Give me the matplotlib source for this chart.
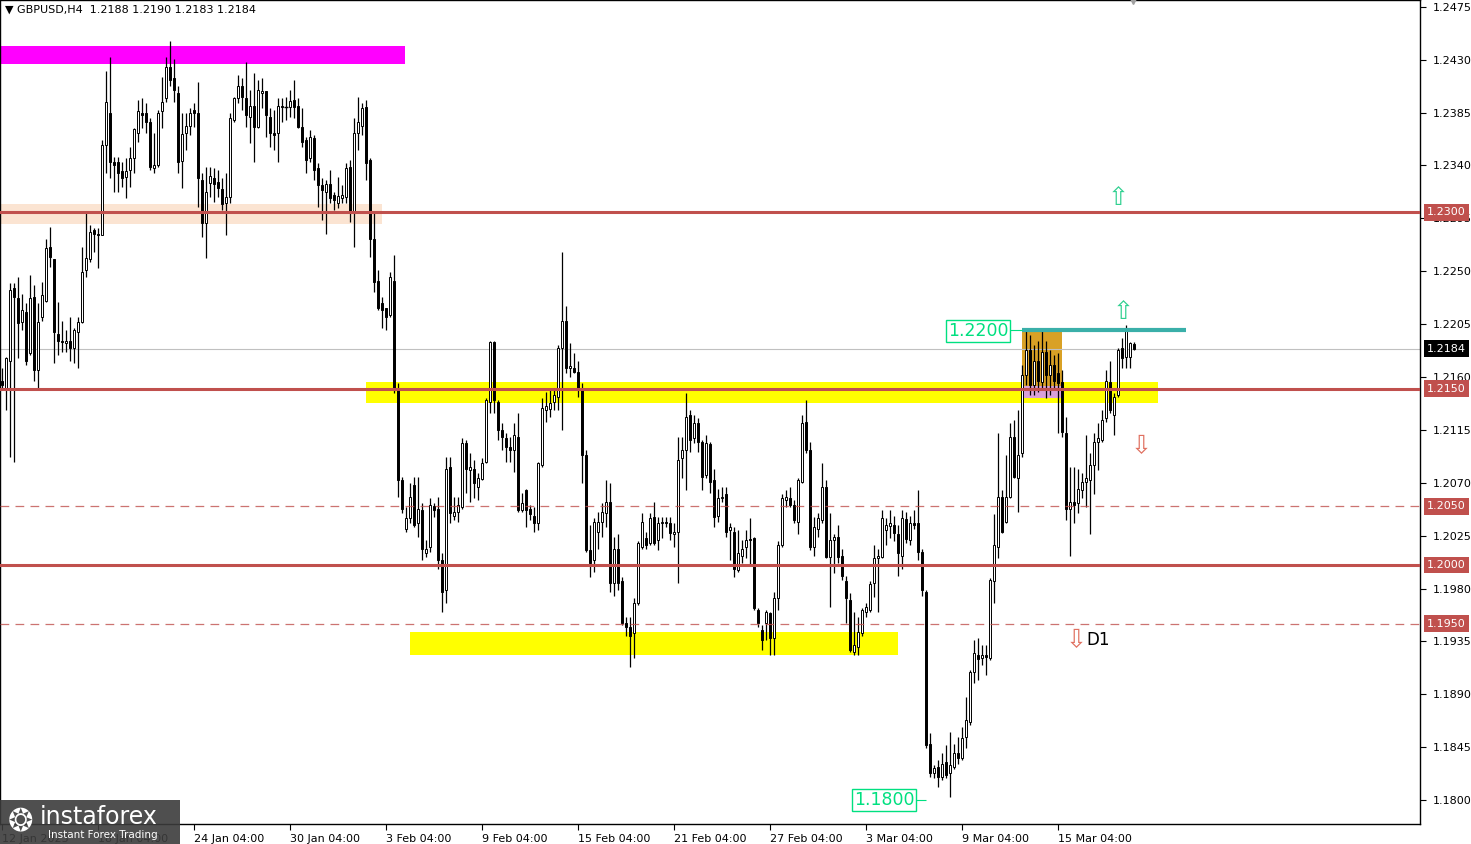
import matplotlib
matplotlib.use('Agg')
import matplotlib.pyplot as plt
from matplotlib.patches import Rectangle
from matplotlib.transforms import blended_transform_factory

# H4 candles (oldest first)
opens = [
    1.2157, 1.2151, 1.2174, 1.2236, 1.2227, 1.2207, 1.2215, 1.2180, 1.2228, 1.2166, 1.2211, 1.2225,
    1.2271, 1.2260, 1.2197, 1.2191, 1.2189, 1.2191, 1.2185, 1.2198, 1.2207, 1.2251, 1.2260, 1.2285,
    1.2282, 1.2281, 1.2357, 1.2385, 1.2343, 1.2343, 1.2335, 1.2330, 1.2336, 1.2346, 1.2368, 1.2385,
    1.2385, 1.2377, 1.2338, 1.2340, 1.2386, 1.2397, 1.2424, 1.2414, 1.2402, 1.2344, 1.2368, 1.2374,
    1.2387, 1.2385, 1.2328, 1.2291, 1.2325, 1.2329, 1.2326, 1.2320, 1.2308, 1.2313, 1.2379, 1.2397,
    1.2408, 1.2397, 1.2381, 1.2391, 1.2373, 1.2402, 1.2403, 1.2381, 1.2368, 1.2368, 1.2391, 1.2390,
    1.2390, 1.2396, 1.2391, 1.2373, 1.2362, 1.2346, 1.2363, 1.2338, 1.2323, 1.2317, 1.2324, 1.2315,
    1.2308, 1.2312, 1.2313, 1.2339, 1.2300, 1.2368, 1.2374, 1.2390, 1.2345, 1.2277, 1.2242, 1.2223,
    1.2219, 1.2213, 1.2242, 1.2149, 1.2072, 1.2031, 1.2040, 1.2068, 1.2036, 1.2047, 1.2010, 1.2015,
    1.2050, 1.2048, 1.2004, 1.1979, 1.2083, 1.2042, 1.2045, 1.2049, 1.2104, 1.2081, 1.2082, 1.2066,
    1.2073, 1.2088, 1.2139, 1.2190, 1.2139, 1.2115, 1.2108, 1.2100, 1.2098, 1.2109, 1.2047, 1.2064,
    1.2048, 1.2042, 1.2036, 1.2085, 1.2132, 1.2133, 1.2139, 1.2143, 1.2185, 1.2208, 1.2168, 1.2168,
    1.2164, 1.2149, 1.2094, 1.2013, 1.2004, 1.2028, 1.2037, 1.2044, 1.2054, 1.1985, 1.2014, 1.1986,
    1.1951, 1.1947, 1.1942, 1.1968, 1.2015, 1.2023, 1.2019, 1.2041, 1.2021, 1.2036, 1.2037, 1.2036,
    1.2026, 1.2028, 1.2091, 1.2098, 1.2128, 1.2108, 1.2121, 1.2105, 1.2077, 1.2103, 1.2072, 1.2042,
    1.2057, 1.2060, 1.2030, 1.2028, 1.1996, 1.2008, 1.2015, 1.2022, 1.2023, 1.1962, 1.1945, 1.1951,
    1.1959, 1.1938, 1.1972, 1.2017, 1.2055, 1.2057, 1.2051, 1.2037, 1.2071, 1.2122, 1.2098, 1.2015,
    1.2031, 1.2038, 1.2066, 1.2007, 1.2021, 1.2024, 1.2008, 1.1986, 1.1970, 1.1926, 1.1930, 1.1942,
    1.1960, 1.1962, 1.1985, 1.2006, 1.2007, 1.2030, 1.2033, 1.2034, 1.2026, 1.2008, 1.2039, 1.2021,
    1.2036, 1.2036, 1.2011, 1.1977, 1.1848, 1.1823, 1.1828, 1.1820, 1.1832, 1.1823, 1.1828, 1.1840,
    1.1836, 1.1854, 1.1866, 1.1909, 1.1923, 1.1921, 1.1923, 1.1921, 1.1986, 1.2015, 1.2058, 1.2037,
    1.2058, 1.2109, 1.2074, 1.2095, 1.2162, 1.2183, 1.2153, 1.2174, 1.2156, 1.2181, 1.2162, 1.2170,
    1.2163, 1.2156, 1.2112, 1.2048, 1.2054, 1.2053, 1.2064, 1.2071, 1.2072, 1.2085, 1.2105, 1.2106,
    1.2125, 1.2156, 1.2128, 1.2145, 1.2185, 1.2177, 1.2177, 1.2188,
]
highs = [
    1.2168, 1.2177, 1.2240, 1.2240, 1.2245, 1.2231, 1.2223, 1.2247, 1.2238, 1.2223, 1.2241, 1.2277,
    1.2288, 1.2260, 1.2224, 1.2208, 1.2200, 1.2211, 1.2202, 1.2211, 1.2271, 1.2300, 1.2289, 1.2287,
    1.2287, 1.2362, 1.2420, 1.2432, 1.2347, 1.2347, 1.2343, 1.2346, 1.2356, 1.2372, 1.2396, 1.2397,
    1.2393, 1.2380, 1.2368, 1.2387, 1.2415, 1.2432, 1.2446, 1.2431, 1.2408, 1.2385, 1.2385, 1.2389,
    1.2393, 1.2411, 1.2334, 1.2339, 1.2339, 1.2338, 1.2336, 1.2329, 1.2334, 1.2385, 1.2398, 1.2417,
    1.2414, 1.2428, 1.2404, 1.2419, 1.2413, 1.2414, 1.2403, 1.2389, 1.2387, 1.2397, 1.2397, 1.2398,
    1.2404, 1.2413, 1.2397, 1.2389, 1.2364, 1.2370, 1.2366, 1.2342, 1.2329, 1.2328, 1.2336, 1.2317,
    1.2330, 1.2323, 1.2342, 1.2345, 1.2380, 1.2398, 1.2393, 1.2396, 1.2346, 1.2300, 1.2251, 1.2228,
    1.2219, 1.2249, 1.2264, 1.2155, 1.2075, 1.2049, 1.2070, 1.2075, 1.2075, 1.2053, 1.2021, 1.2057,
    1.2053, 1.2058, 1.2010, 1.2092, 1.2092, 1.2058, 1.2058, 1.2108, 1.2106, 1.2095, 1.2089, 1.2078,
    1.2091, 1.2142, 1.2191, 1.2191, 1.2140, 1.2121, 1.2112, 1.2109, 1.2121, 1.2129, 1.2061, 1.2065,
    1.2051, 1.2049, 1.2088, 1.2142, 1.2147, 1.2151, 1.2150, 1.2187, 1.2266, 1.2220, 1.2189, 1.2180,
    1.2174, 1.2155, 1.2098, 1.2034, 1.2040, 1.2045, 1.2053, 1.2072, 1.2070, 1.2024, 1.2026, 1.1990,
    1.1956, 1.1956, 1.1972, 1.2020, 1.2044, 1.2028, 1.2044, 1.2054, 1.2041, 1.2041, 1.2041, 1.2041,
    1.2036, 1.2109, 1.2109, 1.2146, 1.2132, 1.2128, 1.2125, 1.2106, 1.2111, 1.2105, 1.2082, 1.2065,
    1.2066, 1.2066, 1.2036, 1.2032, 1.2030, 1.2021, 1.2030, 1.2040, 1.2024, 1.1963, 1.1949, 1.1962,
    1.1960, 1.1977, 1.2020, 1.2060, 1.2064, 1.2066, 1.2055, 1.2074, 1.2128, 1.2140, 1.2105, 1.2041,
    1.2044, 1.2087, 1.2072, 1.2044, 1.2026, 1.2034, 1.2014, 1.1991, 1.1976, 1.1960, 1.1956, 1.1963,
    1.1968, 1.1986, 1.2017, 1.2014, 1.2047, 1.2040, 1.2047, 1.2042, 1.2034, 1.2047, 1.2045, 1.2042,
    1.2047, 1.2064, 1.2014, 1.1979, 1.1857, 1.1830, 1.1834, 1.1840, 1.1847, 1.1858, 1.1848, 1.1854,
    1.1862, 1.1888, 1.1911, 1.1936, 1.1938, 1.1932, 1.1932, 1.1989, 1.2043, 1.2112, 1.2064, 1.2094,
    1.2121, 1.2123, 1.2132, 1.2170, 1.2200, 1.2196, 1.2187, 1.2191, 1.2200, 1.2191, 1.2183, 1.2179,
    1.2180, 1.2166, 1.2126, 1.2083, 1.2083, 1.2082, 1.2078, 1.2111, 1.2095, 1.2112, 1.2121, 1.2132,
    1.2166, 1.2174, 1.2146, 1.2185, 1.2193, 1.2204, 1.2190, 1.2190,
]
lows = [
    1.2149, 1.2132, 1.2092, 1.2088, 1.2176, 1.2200, 1.2170, 1.2179, 1.2157, 1.2151, 1.2208, 1.2224,
    1.2254, 1.2172, 1.2179, 1.2181, 1.2181, 1.2174, 1.2172, 1.2168, 1.2206, 1.2245, 1.2258, 1.2266,
    1.2253, 1.2281, 1.2334, 1.2329, 1.2317, 1.2317, 1.2322, 1.2312, 1.2322, 1.2334, 1.2360, 1.2372,
    1.2368, 1.2336, 1.2334, 1.2339, 1.2372, 1.2394, 1.2408, 1.2394, 1.2334, 1.2321, 1.2353, 1.2366,
    1.2373, 1.2305, 1.2279, 1.2261, 1.2313, 1.2309, 1.2313, 1.2302, 1.2281, 1.2308, 1.2377, 1.2393,
    1.2387, 1.2373, 1.2359, 1.2343, 1.2372, 1.2389, 1.2364, 1.2356, 1.2353, 1.2343, 1.2377, 1.2379,
    1.2381, 1.2380, 1.2372, 1.2356, 1.2334, 1.2343, 1.2328, 1.2305, 1.2294, 1.2282, 1.2308, 1.2302,
    1.2304, 1.2308, 1.2308, 1.2292, 1.2271, 1.2353, 1.2366, 1.2328, 1.2262, 1.2232, 1.2217, 1.2202,
    1.2200, 1.2211, 1.2146, 1.2058, 1.2044, 1.2028, 1.2036, 1.2032, 1.2024, 1.2004, 1.2007, 1.2011,
    1.2041, 1.1997, 1.1960, 1.1968, 1.2036, 1.2038, 1.2037, 1.2048, 1.2061, 1.2054, 1.2057, 1.2055,
    1.2072, 1.2087, 1.2129, 1.2129, 1.2106, 1.2098, 1.2088, 1.2088, 1.2079, 1.2045, 1.2045, 1.2032,
    1.2038, 1.2028, 1.2030, 1.2083, 1.2122, 1.2126, 1.2132, 1.2132, 1.2115, 1.2163, 1.2160, 1.2163,
    1.2143, 1.2070, 1.2011, 1.1990, 1.1994, 1.2014, 1.2024, 1.2032, 1.1977, 1.1974, 1.1979, 1.1949,
    1.1940, 1.1913, 1.1921, 1.1966, 1.2014, 1.2014, 1.2017, 1.2017, 1.2013, 1.2023, 1.2032, 1.2021,
    1.2015, 1.1985, 1.2074, 1.2064, 1.2096, 1.2104, 1.2096, 1.2064, 1.2074, 1.2061, 1.2032, 1.2037,
    1.2054, 1.2024, 1.2004, 1.1990, 1.1994, 1.2002, 1.2006, 1.2000, 1.1962, 1.1947, 1.1928, 1.1936,
    1.1923, 1.1923, 1.1962, 1.2015, 1.2049, 1.2049, 1.2036, 1.2026, 1.2070, 1.2095, 1.2013, 1.2008,
    1.2024, 1.2036, 1.2006, 1.1964, 1.1993, 1.2002, 1.1987, 1.1951, 1.1926, 1.1923, 1.1923, 1.1940,
    1.1956, 1.1960, 1.1973, 1.1960, 1.2006, 1.2017, 1.2023, 1.2020, 1.1991, 1.1997, 1.2019, 1.2017,
    1.2031, 1.2004, 1.1974, 1.1844, 1.1820, 1.1819, 1.1811, 1.1817, 1.1819, 1.1803, 1.1826, 1.1831,
    1.1834, 1.1844, 1.1864, 1.1900, 1.1902, 1.1915, 1.1906, 1.1919, 1.1968, 1.2006, 1.2027, 1.2036,
    1.2057, 1.2074, 1.2045, 1.2092, 1.2153, 1.2145, 1.2145, 1.2147, 1.2149, 1.2142, 1.2145, 1.2149,
    1.2112, 1.2109, 1.2038, 1.2008, 1.2036, 1.2044, 1.2057, 1.2049, 1.2026, 1.2060, 1.2081, 1.2105,
    1.2122, 1.2129, 1.2111, 1.2143, 1.2168, 1.2168, 1.2168, 1.2183,
]
closes = [
    1.2153, 1.2176, 1.2234, 1.2228, 1.2206, 1.2217, 1.2174, 1.2227, 1.2166, 1.2207, 1.2230, 1.2270,
    1.2262, 1.2198, 1.2191, 1.2190, 1.2191, 1.2185, 1.2200, 1.2207, 1.2249, 1.2261, 1.2283, 1.2282,
    1.2281, 1.2357, 1.2394, 1.2343, 1.2340, 1.2334, 1.2329, 1.2335, 1.2346, 1.2371, 1.2386, 1.2383,
    1.2377, 1.2339, 1.2340, 1.2385, 1.2394, 1.2424, 1.2413, 1.2404, 1.2343, 1.2367, 1.2374, 1.2385,
    1.2385, 1.2329, 1.2291, 1.2317, 1.2331, 1.2324, 1.2321, 1.2307, 1.2313, 1.2380, 1.2397, 1.2408,
    1.2398, 1.2383, 1.2391, 1.2373, 1.2404, 1.2403, 1.2383, 1.2368, 1.2366, 1.2391, 1.2390, 1.2390,
    1.2395, 1.2390, 1.2373, 1.2360, 1.2345, 1.2364, 1.2336, 1.2323, 1.2319, 1.2324, 1.2312, 1.2311,
    1.2314, 1.2315, 1.2338, 1.2300, 1.2368, 1.2377, 1.2389, 1.2342, 1.2277, 1.2241, 1.2219, 1.2217,
    1.2211, 1.2245, 1.2149, 1.2072, 1.2048, 1.2040, 1.2058, 1.2034, 1.2048, 1.2014, 1.2014, 1.2051,
    1.2047, 1.2004, 1.1977, 1.2082, 1.2044, 1.2045, 1.2051, 1.2104, 1.2082, 1.2083, 1.2070, 1.2074,
    1.2087, 1.2140, 1.2190, 1.2140, 1.2115, 1.2109, 1.2100, 1.2098, 1.2111, 1.2047, 1.2053, 1.2047,
    1.2043, 1.2036, 1.2087, 1.2134, 1.2135, 1.2138, 1.2145, 1.2185, 1.2208, 1.2168, 1.2169, 1.2164,
    1.2149, 1.2094, 1.2013, 1.2002, 1.2037, 1.2037, 1.2045, 1.2054, 1.1985, 1.2014, 1.1985, 1.1951,
    1.1947, 1.1940, 1.1968, 1.2019, 1.2037, 1.2017, 1.2040, 1.2019, 1.2036, 1.2037, 1.2036, 1.2027,
    1.2028, 1.2089, 1.2098, 1.2126, 1.2106, 1.2121, 1.2105, 1.2075, 1.2104, 1.2071, 1.2041, 1.2057,
    1.2058, 1.2028, 1.2032, 1.1997, 1.2010, 1.2014, 1.2021, 1.2021, 1.1963, 1.1951, 1.1936, 1.1960,
    1.1938, 1.1972, 1.2017, 1.2057, 1.2058, 1.2051, 1.2038, 1.2072, 1.2121, 1.2098, 1.2015, 1.2032,
    1.2040, 1.2066, 1.2007, 1.2021, 1.2024, 1.2007, 1.1991, 1.1972, 1.1928, 1.1932, 1.1943, 1.1962,
    1.1964, 1.1984, 1.2006, 1.2008, 1.2040, 1.2034, 1.2036, 1.2027, 1.2010, 1.2040, 1.2022, 1.2036,
    1.2034, 1.2011, 1.1979, 1.1847, 1.1823, 1.1827, 1.1820, 1.1831, 1.1821, 1.1830, 1.1840, 1.1836,
    1.1853, 1.1868, 1.1909, 1.1925, 1.1920, 1.1923, 1.1922, 1.1987, 1.2017, 1.2058, 1.2028, 1.2058,
    1.2109, 1.2075, 1.2094, 1.2162, 1.2183, 1.2153, 1.2174, 1.2157, 1.2181, 1.2162, 1.2170, 1.2157,
    1.2155, 1.2113, 1.2048, 1.2054, 1.2051, 1.2065, 1.2071, 1.2074, 1.2085, 1.2105, 1.2108, 1.2123,
    1.2157, 1.2132, 1.2143, 1.2183, 1.2176, 1.2202, 1.2189, 1.2184,
]

date_labels = ['12 Jan 2023', '18 Jan 04:00', '24 Jan 04:00', '30 Jan 04:00', '3 Feb 04:00',
               '9 Feb 04:00', '15 Feb 04:00', '21 Feb 04:00', '27 Feb 04:00', '3 Mar 04:00',
               '9 Mar 04:00', '15 Mar 04:00']
bars_per_label = 24

price_ticks = [1.1800, 1.1845, 1.1890, 1.1935, 1.1980, 1.2025, 1.2070, 1.2115,
               1.2160, 1.2205, 1.2250, 1.2295, 1.2340, 1.2385, 1.2430, 1.2475]
solid_levels = [1.2300, 1.2150, 1.2000]
dashed_levels = [1.2050, 1.1950]
last_price = 1.2184
title = '\u25bc GBPUSD,H4  1.2188 1.2190 1.2183 1.2184'

# zones: (first bar, last bar, low price, high price, colour)
zones = [
    (-0.5, 100.8, 1.2426, 1.2442, '#ff00ff'),
    (-0.5, 95.0, 1.2290, 1.2307, '#fbe4d2'),
    (91.0, 289.0, 1.2138, 1.2156, '#ffff00'),
    (102.0, 224.0, 1.1923, 1.1943, '#ffff00'),
    (255.0, 265.0, 1.2142, 1.2198, '#d9a125'),
    (255.0, 265.0, 1.2142, 1.2152, '#d8a0d8'),
]

red = '#c0504d'
green = '#00e080'

fig = plt.figure(figsize=(14.71, 8.44), dpi=100)
ax = fig.add_axes([0, 20 / 844, 1420 / 1471, 824 / 844])
ax.set_xlim(-0.5, 354.5)
ax.set_ylim(1.17796, 1.24808)

for x0, x1, lo, hi, col in zones:
    ax.add_patch(Rectangle((x0, lo), x1 - x0, hi - lo, facecolor=col, edgecolor='none', zorder=1))

ax.axhline(last_price, color='#c0c0c0', lw=0.8, zorder=1.5)

# candles
for i in range(len(closes)):
    o, c = opens[i], closes[i]
    h = max(highs[i], o, c)
    l = min(lows[i], o, c)
    ax.vlines(i, l, h, color='black', lw=0.9, zorder=3)
    body = abs(c - o)
    if body < 0.00005:
        ax.hlines((o + c) / 2, i - 0.38, i + 0.38, color='black', lw=1.0, zorder=4)
        continue
    fill = 'white' if c >= o else 'black'
    ax.add_patch(Rectangle((i - 0.36, min(o, c)), 0.72, body, facecolor=fill,
                           edgecolor='black', lw=0.7, zorder=4))

for lv in solid_levels:
    ax.axhline(lv, color=red, lw=2.2, zorder=5)
for lv in dashed_levels:
    ax.axhline(lv, color=red, lw=0.9, dashes=(7, 5), zorder=5, alpha=0.8)

# 1.2200 resistance line with labels
ax.hlines(1.2200, 255, 296, color='#3aafa9', lw=3, zorder=6)
ax.hlines(1.2200, 252, 255, color=green, lw=0.8, zorder=6)
ax.text(244, 1.2199, '1.2200', color=green, fontsize=12.5, ha='center', va='center', zorder=7,
        bbox=dict(boxstyle='square,pad=0.12', facecolor='white', edgecolor=green, lw=1))
ax.hlines(1.1800, 228.5, 231, color=green, lw=0.8, zorder=6)
ax.text(220.5, 1.1800, '1.1800', color=green, fontsize=12.5, ha='center', va='center', zorder=7,
        bbox=dict(boxstyle='square,pad=0.12', facecolor='white', edgecolor=green, lw=1))

# arrows
ax.text(279, 1.2312, '\u21e7', color='#30d090', fontsize=18, ha='center', va='center', zorder=7)
ax.text(280.3, 1.2215, '\u21e7', color='#30d090', fontsize=18, ha='center', va='center', zorder=7)
ax.text(284.8, 1.2101, '\u21e9', color='#e07060', fontsize=18, ha='center', va='center', zorder=7)
ax.text(268.5, 1.1936, '\u21e9', color='#e07060', fontsize=18, ha='center', va='center', zorder=7)
ax.text(271.0, 1.1936, 'D1', color='black', fontsize=12, ha='left', va='center', zorder=7)

ax.text(5 / 1420, 1 - 10 / 824, title, transform=ax.transAxes, fontsize=8, ha='left', va='center')
ax.plot([282.75], [1.24808], marker='v', color='#a0a0a0', markersize=6, clip_on=False, zorder=8)

# axes
for s in ax.spines.values():
    s.set_color('black')
    s.set_linewidth(1)
ax.yaxis.tick_right()
ax.set_yticks(price_ticks)
ax.set_yticklabels([f'{p:.4f}' for p in price_ticks])
ax.tick_params(axis='y', direction='out', length=4, labelsize=8, pad=5)
xt = [k * bars_per_label for k in range(len(date_labels))]
ax.set_xticks(xt)
ax.set_xticklabels(date_labels)
ax.tick_params(axis='x', direction='out', length=4, labelsize=8, pad=3)
for lab in ax.get_xticklabels():
    lab.set_horizontalalignment('left')

tr = blended_transform_factory(ax.transAxes, ax.transData)
for lv in solid_levels + dashed_levels:
    ax.text(1 + 7 / 1420, lv, f'{lv:.4f}', transform=tr, color='white', fontsize=8, ha='left',
            va='center', zorder=9, bbox=dict(boxstyle='square,pad=0.3', facecolor=red, edgecolor='none'))
ax.text(1 + 7 / 1420, last_price, f'{last_price:.4f}', transform=tr, color='white', fontsize=8,
        ha='left', va='center', zorder=9,
        bbox=dict(boxstyle='square,pad=0.3', facecolor='black', edgecolor='none'))

# broker logo in the bottom-left corner
fig.patches.append(Rectangle((0, 0), 180 / 1471, 44 / 844, transform=fig.transFigure,
                             facecolor='#3c3c3c', edgecolor='none', alpha=0.9, zorder=10))
fig.text(8 / 1471, 22 / 844, '\u2742', color='white', fontsize=22, ha='left', va='center', zorder=11)
fig.text(40 / 1471, 27 / 844, 'instaforex', color='white', fontsize=17, ha='left', va='center', zorder=11)
fig.text(48 / 1471, 9 / 844, 'Instant Forex Trading', color='white', fontsize=7.5, ha='left',
         va='center', zorder=11)

fig.savefig('out.png', dpi=100)
